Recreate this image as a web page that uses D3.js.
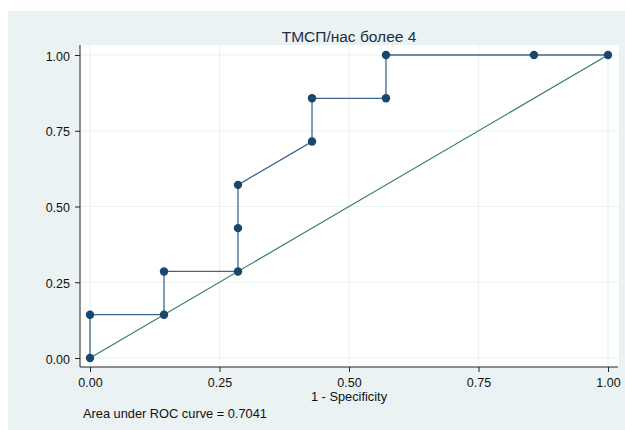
<!DOCTYPE html>
<html><head><meta charset="utf-8">
<script src="https://cdn.jsdelivr.net/npm/d3@7"></script>
<style>body{margin:0;background:#fff}svg{display:block}text{font-family:"Liberation Sans",Arial,sans-serif}</style>
</head><body>
<svg id="c" width="625" height="430"></svg>
<script>
const title = "ТМСП/нас более 4";
const xTitle = "1 - Specificity";
const note = "Area under ROC curve = 0.7041";
const fpr = [0, 0, 0.1429, 0.1429, 0.2857, 0.2857, 0.2857, 0.4286, 0.4286, 0.5714, 0.5714, 0.8571, 1];
const tpr = [0, 0.1429, 0.1429, 0.2857, 0.2857, 0.4286, 0.5714, 0.7143, 0.8571, 0.8571, 1, 1, 1];
const ticks = [0, 0.25, 0.5, 0.75, 1];
const tickLabels = ["0.00", "0.25", "0.50", "0.75", "1.00"];

const svg = d3.select("#c");
svg.append("rect").attr("x",8).attr("y",11).attr("width",617).attr("height",419).attr("fill","#eaf2f3");
const pl = {l:80, r:619, t:45, b:367};
svg.append("rect").attr("x",pl.l).attr("y",pl.t).attr("width",pl.r-pl.l).attr("height",pl.b-pl.t).attr("fill","#fff");

const x = d3.scaleLinear().domain([0,1]).range([90,608]);
const y = d3.scaleLinear().domain([0,1]).range([358,55]);

// grid
svg.append("g").selectAll("line").data(ticks).join("line")
  .attr("x1",pl.l).attr("x2",pl.r).attr("y1",d=>y(d)).attr("y2",d=>y(d))
  .attr("stroke","#eaf2f3").attr("stroke-width",1.2);
svg.append("g").selectAll("line").data(ticks).join("line")
  .attr("y1",pl.t).attr("y2",pl.b).attr("x1",d=>x(d)).attr("x2",d=>x(d))
  .attr("stroke","#eaf2f3").attr("stroke-width",1.2);

// axes
const ax = svg.append("g").attr("transform",`translate(0,${pl.b})`)
  .call(d3.axisBottom(x).tickValues(ticks).tickFormat((d,i)=>tickLabels[i]).tickSize(5).tickPadding(6));
ax.select(".domain").attr("d",`M${pl.l},0H${pl.r-1}`);
const ay = svg.append("g").attr("transform",`translate(${pl.l},0)`)
  .call(d3.axisLeft(y).tickValues(ticks).tickFormat((d,i)=>tickLabels[i]).tickSize(5).tickPadding(5));
ay.select(".domain").attr("d",`M0,${pl.t}V${pl.b}`);
svg.selectAll(".tick text").attr("font-size",12.5).attr("fill","#111").attr("font-family","Liberation Sans, Arial, sans-serif");
ay.selectAll(".tick text").attr("dy","0.4em");
svg.selectAll(".domain, .tick line").attr("stroke","#222");

// reference line
svg.append("line").attr("x1",x(0)).attr("y1",y(0)).attr("x2",x(1)).attr("y2",y(1))
  .attr("stroke","#3a7d6a").attr("stroke-width",1.2);

// ROC curve
const pts = fpr.map((v,i)=>[v,tpr[i]]);
svg.append("path").datum(pts)
  .attr("d",d3.line().x(d=>x(d[0])).y(d=>y(d[1])))
  .attr("fill","none").attr("stroke","#3f678c").attr("stroke-width",1.3);
svg.append("g").selectAll("circle").data(pts).join("circle")
  .attr("cx",d=>x(d[0])).attr("cy",d=>y(d[1])).attr("r",4.2).attr("fill","#1a476f");

svg.append("text").attr("x",349).attr("y",42).attr("text-anchor","middle")
  .attr("font-size",15.5).attr("fill","#1e2d44").text(title);
svg.append("text").attr("x",349).attr("y",401).attr("text-anchor","middle")
  .attr("font-size",12.8).attr("fill","#111").text(xTitle);
svg.append("text").attr("x",83).attr("y",418)
  .attr("font-size",12.8).attr("fill","#111").text(note);
</script>
</body></html>
